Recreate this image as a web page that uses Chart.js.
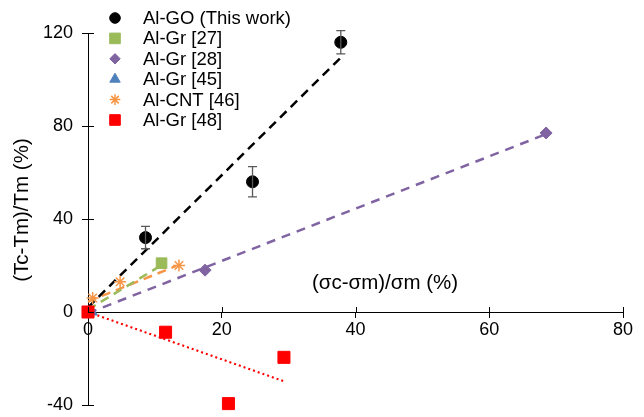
<!DOCTYPE html>
<html lang="en">
<head>
<meta charset="UTF-8">
<title>Thermal vs strength change</title>
<script src="https://cdn.jsdelivr.net/npm/chart.js"></script>
<style>
body{margin:0;background:#fff;font-family:"Liberation Sans",Arial,sans-serif;overflow:hidden}
#wrap{width:644px;height:417px;position:relative}
</style>
</head>
<body>
<div id="wrap"><canvas id="c"></canvas></div>
<script>
// measured points  x = (σc-σm)/σm (%), y = (Tc-Tm)/Tm (%)
const goX=[8.6,24.6,37.8], goY=[32,56,116], goErr=[4.8,6.5,5];
const gr27X=[11], gr27Y=[21];
const gr28X=[17.5,68.5], gr28Y=[18,77];
const gr45X=[0.6], gr45Y=[0];
const cntX=[0.7,4.8,13.6], cntY=[6,13,20];
const gr48X=[0,11.6,21,29.3], gr48Y=[0,-8.7,-39.4,-19.5];
// trend line end points
const goFitX=[0,38], goFitY=[2,110];
const gr27FitX=[0,10.8], gr27FitY=[1,19.8];
const gr28FitX=[0,68.5], gr28FitY=[-0.5,76.5];
const cntFitX=[0,13.2], cntFitY=[4.5,19.8];
const gr48FitX=[0,29.5], gr48FitY=[0,-30];
const legendNames=['Al-GO (This work)','Al-Gr [27]','Al-Gr [28]','Al-Gr [45]','Al-CNT [46]','Al-Gr [48]'];

const pts=(xs,ys)=>xs.map((x,i)=>({x:x,y:ys[i]}));
const FONT='"Liberation Sans", Arial, sans-serif';

function pointSet(label,xs,ys,color,style,r,lr,order){
  return {label:label,data:pts(xs,ys),backgroundColor:color,borderColor:color,pointStyle:style,pointRadius:r,pointHoverRadius:r,
    borderWidth:style==='star'?1.5:1,showLine:false,order:order,clip:false,isMark:true,legendRadius:lr};
}
function fitSet(xs,ys,color,dash,w){
  return {label:'fit',data:pts(xs,ys),borderColor:color,borderDash:dash,borderWidth:w,pointRadius:0,showLine:true,fill:false,order:10,clip:false};
}

const datasets=[
  pointSet(legendNames[0],goX,goY,'#000000','circle',6,5.3,2),
  pointSet(legendNames[1],gr27X,gr27Y,'#9BBB59','rect',7.5,7.5,3),
  pointSet(legendNames[2],gr28X,gr28Y,'#8064A2','rectRot',6,5.2,3),
  pointSet(legendNames[3],gr45X,gr45Y,'#4F81BD','triangle',6,6,2),
  pointSet(legendNames[4],cntX,cntY,'#F79646','star',6,5.3,3),
  pointSet(legendNames[5],gr48X,gr48Y,'#FF0000','rect',8.5,7.5,1),
  fitSet(goFitX,goFitY,'#000000',[9,6],2.5),
  fitSet(gr27FitX,gr27FitY,'#9BBB59',[9,6],2.5),
  fitSet(gr28FitX,gr28FitY,'#8064A2',[9,7],2.5),
  fitSet(cntFitX,cntFitY,'#F79646',[9,6],2.5),
  fitSet(gr48FitX,gr48FitY,'#FF0000',[2,3],2.2)
];

const extras={
  id:'extras',
  afterDatasetsDraw(chart){
    const ctx=chart.ctx, xs=chart.scales.x, ys=chart.scales.y;
    ctx.save();
    // inward half of the tick marks
    ctx.strokeStyle='#000';ctx.lineWidth=1;
    const y0=ys.getPixelForValue(0), x0=xs.getPixelForValue(0);
    xs.ticks.forEach(t=>{const px=Math.round(xs.getPixelForValue(t.value))+0.5;ctx.beginPath();ctx.moveTo(px,y0);ctx.lineTo(px,y0-5);ctx.stroke();});
    ys.ticks.forEach(t=>{const py=Math.round(ys.getPixelForValue(t.value))+0.5;ctx.beginPath();ctx.moveTo(x0,py);ctx.lineTo(x0+6,py);ctx.stroke();});
    // error bars on Al-GO
    ctx.strokeStyle='#595959';ctx.lineWidth=1.3;
    goX.forEach((x,i)=>{
      const px=xs.getPixelForValue(x), top=ys.getPixelForValue(goY[i]+goErr[i]), bot=ys.getPixelForValue(goY[i]-goErr[i]);
      ctx.beginPath();
      ctx.moveTo(px,top);ctx.lineTo(px,bot);
      ctx.moveTo(px-4.5,top);ctx.lineTo(px+4.5,top);
      ctx.moveTo(px-4.5,bot);ctx.lineTo(px+4.5,bot);
      ctx.stroke();
    });
    // axis titles
    ctx.fillStyle='#000';ctx.font='20.5px '+FONT;ctx.textAlign='center';ctx.textBaseline='middle';
    ctx.fillText('(σc-σm)/σm (%)',385,283);
    ctx.translate(22,210);ctx.rotate(-Math.PI/2);
    ctx.fillText('(Tc-Tm)/Tm (%)',0,0);
    ctx.restore();
    // legend
    ctx.save();
    ctx.font='18.5px '+FONT;ctx.textAlign='left';ctx.textBaseline='middle';
    chart.data.datasets.filter(d=>d.isMark).forEach((d,i)=>{
      const y=18+i*20.4;
      ctx.fillStyle=d.backgroundColor;ctx.strokeStyle=d.borderColor;ctx.lineWidth=d.borderWidth;
      Chart.helpers.drawPoint(ctx,{pointStyle:d.pointStyle,radius:d.legendRadius,borderWidth:d.borderWidth,rotation:0},115,y);
      ctx.fillStyle='#000';
      ctx.fillText(d.label,143,y+1);
    });
    ctx.restore();
  }
};

new Chart(document.getElementById('c'),{
  type:'scatter',
  data:{datasets:datasets},
  options:{
    responsive:true,maintainAspectRatio:false,animation:false,
    layout:{padding:{left:0,right:21,top:33,bottom:12}},
    plugins:{legend:{display:false},tooltip:{enabled:false}},
    scales:{
      x:{type:'linear',min:0,max:80,position:{y:0},
        afterFit(s){s.paddingTop=0;s.paddingBottom=0;},
        border:{color:'#000',width:1},
        grid:{drawOnChartArea:false,tickLength:5,color:'#000'},
        ticks:{stepSize:20,color:'#000',font:{size:18,family:FONT},padding:2,maxRotation:0}},
      y:{type:'linear',min:-40,max:120,position:'left',
        afterFit(s){s.width=88;s.paddingTop=0;s.paddingBottom=0;},
        border:{color:'#000',width:1},
        grid:{drawOnChartArea:false,tickLength:6,color:'#000'},
        ticks:{stepSize:40,color:'#000',font:{size:18,family:FONT},padding:9}}
    }
  },
  plugins:[extras]
});
</script>
</body>
</html>
